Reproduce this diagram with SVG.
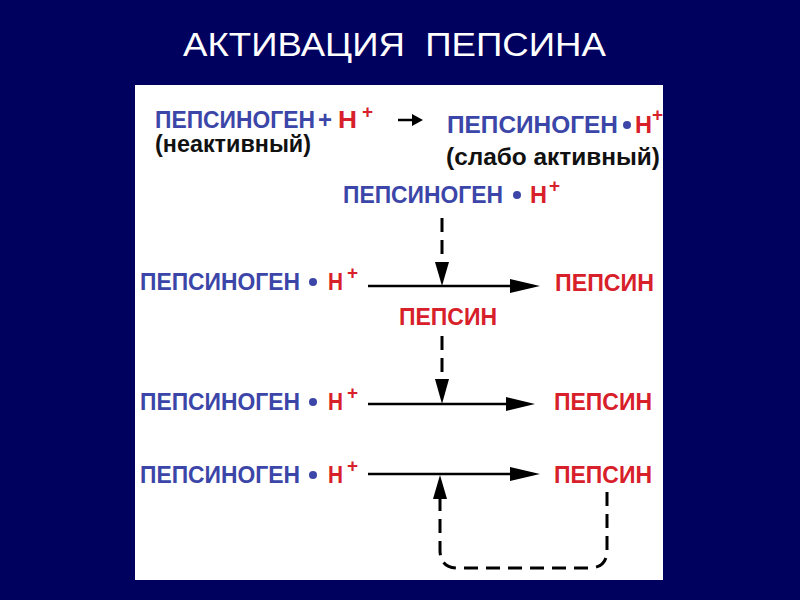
<svg xmlns="http://www.w3.org/2000/svg" width="800" height="600" viewBox="0 0 800 600">
<style>
.t{font-family:"Liberation Sans","Noto Sans",sans-serif;font-weight:bold;font-size:24px}
.s{font-size:23px}
.b{fill:#3b46a8}
.r{fill:#d8202a}
.k{fill:#111}
.sup{font-family:"Liberation Sans",sans-serif;font-weight:bold;font-size:19px;fill:#d8202a}
.title{font-family:"Liberation Sans","DejaVu Sans",sans-serif;font-size:33px;fill:#fff;white-space:pre}
.ln{stroke:#000;stroke-width:2.5;fill:none}
.dash{stroke:#000;stroke-width:3;fill:none;stroke-dasharray:14 8}
.ah{fill:#000}
</style>
<rect x="0" y="0" width="800" height="600" fill="#00005f"/>
<rect x="135" y="85" width="528" height="495" fill="#fff"/>
<text class="title" x="183" y="56" textLength="423" lengthAdjust="spacingAndGlyphs">АКТИВАЦИЯ  ПЕПСИНА</text>

<g id="n1">
<text class="t s b" x="155" y="128" textLength="160" lengthAdjust="spacingAndGlyphs">ПЕПСИНОГЕН</text>
<text class="t b" x="318" y="128">+</text>
<text class="t s r" x="338" y="128" textLength="19" lengthAdjust="spacingAndGlyphs">H</text>
<text class="sup" x="362" y="118">+</text>
<text class="t s k" x="155" y="152" textLength="156" lengthAdjust="spacingAndGlyphs">(неактивный)</text>
</g>
<g id="n2">
<text class="t s b" x="447" y="133" textLength="171" lengthAdjust="spacingAndGlyphs">ПЕПСИНОГЕН</text>
<circle class="b" cx="627" cy="125" r="4"/>
<text class="t s r" x="635" y="133" textLength="17" lengthAdjust="spacingAndGlyphs">H</text>
<text class="sup" x="652" y="121">+</text>
<text class="t s k" x="446" y="165" textLength="214" lengthAdjust="spacingAndGlyphs">(слабо активный)</text>
</g>
<g id="n3">
<text class="t b" x="343" y="203" textLength="160" lengthAdjust="spacingAndGlyphs">ПЕПСИНОГЕН</text>
<circle class="b" cx="517" cy="195" r="4"/>
<text class="t r" x="530" y="203" textLength="17" lengthAdjust="spacingAndGlyphs">H</text>
<text class="sup" x="549" y="192">+</text>
</g>
<g id="n4">
<text class="t b" x="140" y="290" textLength="160" lengthAdjust="spacingAndGlyphs">ПЕПСИНОГЕН</text>
<circle class="b" cx="313" cy="282" r="4"/>
<text class="t r" x="328" y="290" textLength="15" lengthAdjust="spacingAndGlyphs">H</text>
<text class="sup" x="347" y="279">+</text>
</g>
<g id="n5"><text class="t r" x="555" y="291" textLength="99" lengthAdjust="spacingAndGlyphs">ПЕПСИН</text></g>
<g id="n6"><text class="t r" x="399" y="325" textLength="98" lengthAdjust="spacingAndGlyphs">ПЕПСИН</text></g>
<g id="n7">
<text class="t b" x="140" y="410" textLength="160" lengthAdjust="spacingAndGlyphs">ПЕПСИНОГЕН</text>
<circle class="b" cx="313" cy="402" r="4"/>
<text class="t r" x="328" y="410" textLength="15" lengthAdjust="spacingAndGlyphs">H</text>
<text class="sup" x="347" y="399">+</text>
</g>
<g id="n8"><text class="t r" x="554" y="410" textLength="98" lengthAdjust="spacingAndGlyphs">ПЕПСИН</text></g>
<g id="n9">
<text class="t b" x="140" y="483" textLength="160" lengthAdjust="spacingAndGlyphs">ПЕПСИНОГЕН</text>
<circle class="b" cx="313" cy="475" r="4"/>
<text class="t r" x="328" y="483" textLength="15" lengthAdjust="spacingAndGlyphs">H</text>
<text class="sup" x="347" y="472">+</text>
</g>
<g id="n10"><text class="t r" x="554" y="483" textLength="98" lengthAdjust="spacingAndGlyphs">ПЕПСИН</text></g>

<g id="connectors">
<line class="ln" x1="398" y1="120" x2="414" y2="120" stroke-width="3.5"/>
<polygon class="ah" points="412,114 423,120 412,126"/>
<line class="ln" x1="368" y1="286" x2="512" y2="286"/>
<polygon class="ah" points="510,279 540,286 510,293"/>
<line class="dash" x1="442" y1="218" x2="442" y2="264"/>
<polygon class="ah" points="435,262 449,262 442,286"/>
<line class="ln" x1="368" y1="404" x2="508" y2="404"/>
<polygon class="ah" points="506,397 535,404 506,411"/>
<line class="dash" x1="442" y1="336" x2="442" y2="381"/>
<polygon class="ah" points="435,379 449,379 442,404"/>
<line class="ln" x1="368" y1="474" x2="512" y2="474"/>
<polygon class="ah" points="510,467 540,474 510,481"/>
<polygon class="ah" points="440,475 447,499 433,499"/>
<path class="dash" d="M607,492 V550 Q607,568 589,568 H458 Q440,568 440,550 V497"/>
</g>
</svg>
